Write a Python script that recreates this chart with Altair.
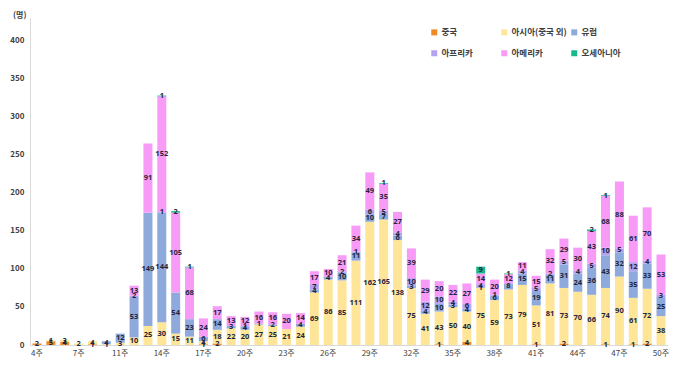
import altair as alt
import pandas as pd

weeks = ["4주", "5주", "6주", "7주", "8주", "9주",
         "11주", "12주", "13주", "14주", "15주", "16주",
         "17주", "18주", "19주", "20주", "21주", "22주",
         "23주", "24주", "25주", "26주", "27주", "28주",
         "29주", "30주", "31주", "32주", "33주", "34주",
         "35주", "36주", "37주", "38주", "39주", "40주",
         "41주", "42주", "43주", "44주", "45주", "46주",
         "47주", "48주", "49주", "50주"]

series = ["중국", "아시아(중국 외)", "유럽", "아프리카", "아메리카", "오세아니아"]
colors = ["#F08A24", "#FFE597", "#8EA9DB", "#B3A2F0", "#F79BF7", "#17B88C"]

china = [2, 5, 4, 0, 1, 0,
         0, 0, 0, 0, 0, 0,
         1, 2, 0, 0, 0, 0,
         0, 0, 0, 0, 0, 0,
         0, 0, 0, 0, 0, 1,
         0, 4, 0, 0, 0, 0,
         1, 0, 2, 0, 0, 1,
         0, 1, 2, 0]
asia = [0, 1, 3, 2, 4, 1,
        3, 10, 25, 30, 15, 11,
        4, 18, 22, 20, 27, 25,
        21, 24, 69, 86, 85, 111,
        162, 165, 138, 75, 41, 43,
        50, 40, 75, 59, 73, 79,
        51, 81, 73, 70, 66, 74,
        90, 61, 72, 38]
europe = [0, 0, 0, 0, 0, 4,
          12, 53, 149, 144, 54, 23,
          6, 14, 3, 4, 1, 2,
          0, 4, 4, 4, 10, 11,
          10, 7, 6, 3, 4, 10,
          3, 4, 1, 6, 8, 15,
          19, 11, 31, 24, 36, 43,
          32, 35, 33, 25]
africa = [0, 0, 0, 0, 0, 0,
          0, 2, 0, 1, 0, 0,
          0, 0, 0, 1, 0, 0,
          0, 0, 7, 0, 2, 1,
          6, 5, 4, 10, 12, 10,
          4, 6, 4, 1, 0, 4,
          5, 2, 5, 4, 5, 10,
          5, 12, 4, 3]
america = [0, 0, 0, 0, 0, 0,
           0, 13, 91, 152, 105, 68,
           24, 17, 13, 12, 16, 16,
           20, 14, 17, 10, 21, 34,
           49, 35, 27, 39, 29, 20,
           22, 27, 14, 20, 12, 11,
           15, 32, 29, 30, 43, 68,
           88, 61, 70, 53]
oceania = [0, 0, 0, 0, 0, 0,
           0, 0, 0, 1, 2, 1,
           0, 0, 0, 0, 0, 0,
           0, 0, 0, 0, 0, 0,
           0, 1, 0, 0, 0, 0,
           0, 0, 9, 0, 1, 0,
           0, 0, 0, 0, 2, 1,
           0, 0, 0, 0]

y_ticks = [0, 50, 100, 150, 200, 250, 300, 350, 400]
x_label_weeks = weeks[::3]

rows = []
for si, (name, vals) in enumerate(zip(series, [china, asia, europe, africa, america, oceania])):
    for w, v in zip(weeks, vals):
        if v > 0:
            rows.append({"week": w, "series": name, "value": v, "idx": si})
df = pd.DataFrame(rows)

FONT = "Noto Sans CJK KR"

x_enc = alt.X("week:N", sort=weeks, title=None,
              scale=alt.Scale(paddingInner=0.35, paddingOuter=0.18),
              axis=alt.Axis(values=x_label_weeks, labelAngle=0, ticks=False,
                            domainColor="#d9d9d9", labelFont=FONT, labelFontSize=8,
                            labelColor="#404040", labelPadding=4))

base = alt.Chart(df)

bars = base.mark_bar().encode(
    x=x_enc,
    y=alt.Y("value:Q", stack="zero", title="(명)",
            scale=alt.Scale(domain=[0, 430], nice=False),
            axis=alt.Axis(values=y_ticks, grid=False, ticks=False, domainColor="#d9d9d9",
                          labelFont=FONT, labelFontSize=8, labelFontWeight="bold",
                          labelColor="#404040",
                          labelPadding=6, titleAngle=0, titleX=-4, titleY=1,
                          titleAlign="right", titleBaseline="bottom", titleFont=FONT,
                          titleFontSize=8, titleFontWeight="bold", titleColor="#404040")),
    color=alt.Color("series:N", scale=alt.Scale(domain=series, range=colors),
                    legend=alt.Legend(title=None, orient="none", legendX=400, legendY=10,
                                      direction="horizontal", columns=3, gridAlign="all",
                                      columnPadding=3, rowPadding=12, symbolType="square",
                                      symbolSize=36, symbolStrokeWidth=0, labelFont=FONT,
                                      labelFontSize=8.5, labelFontWeight="bold",
                                      labelColor="#404040", labelOffset=3)),
    order=alt.Order("idx:Q"),
)

labels = base.transform_stack(
    stack="value", as_=["v0", "v1"], groupby=["week"], sort=[alt.SortField("idx")]
).transform_calculate(
    mid="(datum.v0 + datum.v1) / 2"
).mark_text(font="Noto Sans", fontSize=7.5, fontWeight="bold", color="#1f2740",
            baseline="middle").encode(
    x=alt.X("week:N", sort=weeks),
    y=alt.Y("mid:Q"),
    text=alt.Text("value:Q"),
)

chart = alt.layer(bars, labels).properties(
    width=638, height=327,
    autosize=alt.AutoSizeParams(type="none"),
    padding={"left": 22, "top": 10, "right": 4, "bottom": 16},
).configure_view(stroke=None)

chart.save("out.html", embed_options={"renderer": "svg", "actions": False})
